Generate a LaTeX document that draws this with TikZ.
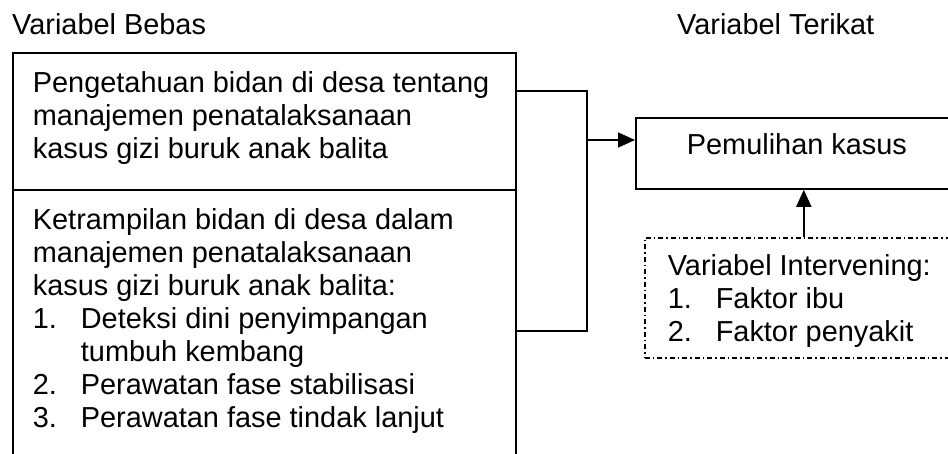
\documentclass[tikz,border=0pt]{standalone}
\usepackage{fontspec}
\setmainfont{Liberation Sans}
\usetikzlibrary{arrows.meta, calc}

% isi kotak: lebar, tinggi, jarak kiri, jarak atas, teks
\newcommand{\isikotak}[5]{\parbox[t][#2][t]{#1}{\raggedright\leftskip=#3\vspace*{#4}#5}}
\newcommand{\nomor}[1]{\makebox[48pt][l]{#1}}

\begin{document}
\begin{tikzpicture}[x=1pt, y=-1pt,
        font=\fontsize{28.9pt}{33pt}\selectfont,
        box/.style={draw, line width=1.8pt, inner sep=0pt, anchor=north west},
        dashbox/.style={box, line width=1.6pt, dash pattern=on 5pt off 3pt on 1.5pt off 3pt},
        judul/.style={anchor=base west, inner sep=0pt},
        arr/.style={-{Triangle[length=17pt, width=15pt]}, line width=1.8pt}
      ]
        \useasboundingbox (0,0) rectangle (948,454);
        \node[judul] (bebas) at (12,35) {Variabel Bebas};
        \node[judul] (terikat) at (677,35) {Variabel Terikat};
        \node[box] (pengetahuan) at (12,52) {\isikotak{503pt}{137pt}{20pt}{19pt}{%
          Pengetahuan bidan di desa tentang\\ manajemen penatalaksanaan\\ kasus gizi buruk anak balita}};
        \node[box] (ketrampilan) at (12,189) {\isikotak{503pt}{311pt}{20pt}{19pt}{%
          Ketrampilan bidan di desa dalam\\ manajemen penatalaksanaan\\ kasus gizi buruk anak balita:\\
          \nomor{1.}Deteksi dini penyimpangan\\ \hspace*{48pt}tumbuh kembang\\
          \nomor{2.}Perawatan fase stabilisasi\\ \nomor{3.}Perawatan fase tindak lanjut}};
        \node[box, minimum width=322pt, minimum height=71pt, text height=21pt, text depth=18pt]
          (pemulihan) at (635,117) {Pemulihan kasus};
        \node[dashbox] (intervening) at (644,237) {\isikotak{318pt}{120pt}{23pt}{17pt}{%
          Variabel Intervening:\\ \nomor{1.}Faktor ibu\\ \nomor{2.}Faktor penyakit}};
        \coordinate (simpul) at (587,140);
        \draw[line width=1.8pt] ([yshift=-39pt]pengetahuan.north east) -| (simpul)
          |- ([yshift=-142pt]ketrampilan.north east);
        \draw[arr] (simpul) -- (simpul -| pemulihan.west);
        \draw[arr] (intervening.north) -- (intervening.north |- pemulihan.south);
      \end{tikzpicture}
\end{document}
